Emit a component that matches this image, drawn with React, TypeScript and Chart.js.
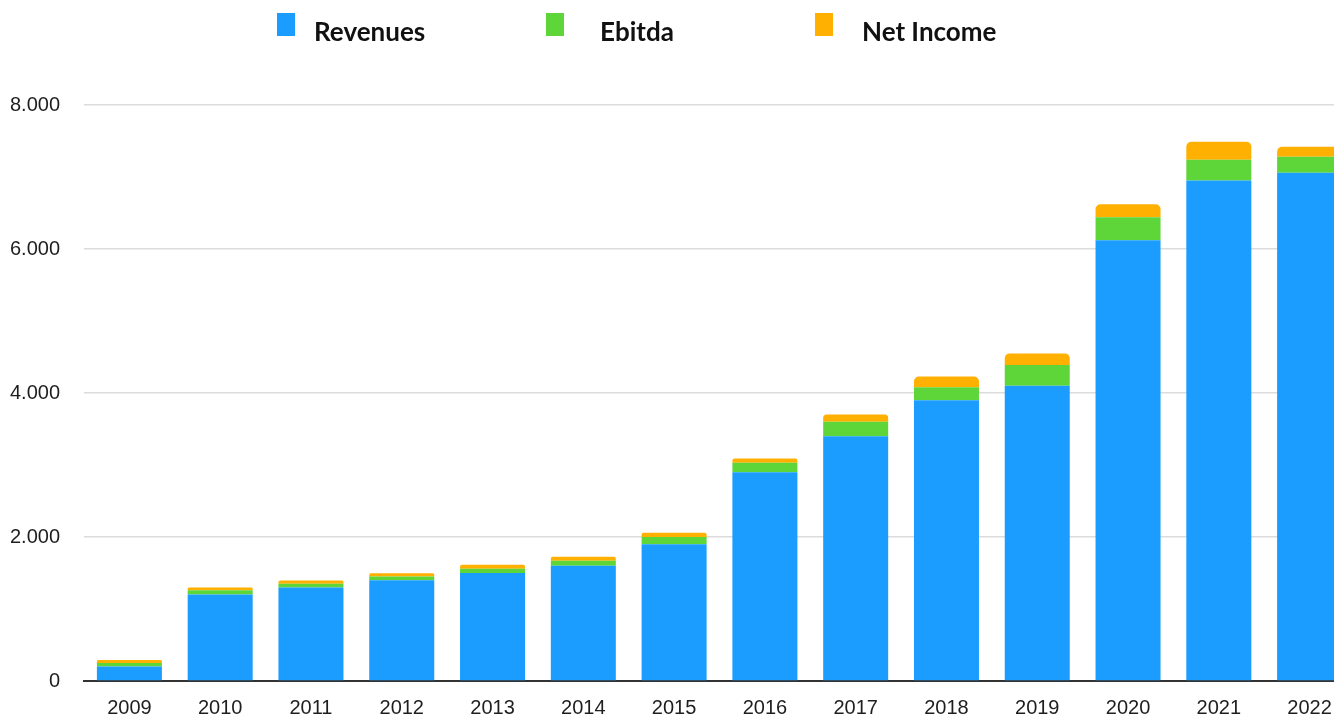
import React, { useEffect, useRef } from 'react';
import { Chart, registerables } from 'chart.js';

Chart.register(...registerables);

const years = ['2009', '2010', '2011', '2012', '2013', '2014', '2015', '2016', '2017', '2018', '2019', '2020', '2021', '2022'];
const revenues = [200, 1200, 1300, 1400, 1500, 1600, 1900, 2900, 3400, 3900, 4100, 6120, 6950, 7060];
const ebitda = [50, 60, 50, 50, 60, 70, 100, 130, 200, 180, 290, 320, 290, 220];
const netIncome = [40, 40, 45, 45, 55, 55, 60, 60, 100, 150, 160, 180, 250, 140];
const yTickLabels = ['0', '2.000', '4.000', '6.000', '8.000'];
const seriesNames = ['Revenues', 'Ebitda', 'Net Income'];
const seriesColors = ['#1A9DFF', '#5ED63A', '#FFB000'];

const legendMarkerLeft = [277, 546, 815];
const legendTextLeft = [314, 600, 862];

export default function App() {
  const canvasRef = useRef<HTMLCanvasElement | null>(null);

  useEffect(() => {
    document.body.style.margin = '0';
    const canvas = canvasRef.current;
    if (!canvas) return;
    const tickFont = { family: 'Liberation Sans', size: 20 };
    const barPct = 0.716;
    const chart = new Chart(canvas, {
      type: 'bar',
      data: {
        labels: years,
        datasets: [
          { label: seriesNames[0], data: revenues, backgroundColor: seriesColors[0], barPercentage: barPct, categoryPercentage: 1 },
          { label: seriesNames[1], data: ebitda, backgroundColor: seriesColors[1], barPercentage: barPct, categoryPercentage: 1 },
          {
            label: seriesNames[2], data: netIncome, backgroundColor: seriesColors[2], barPercentage: barPct, categoryPercentage: 1,
            borderRadius: { topLeft: 5, topRight: 5, bottomLeft: 0, bottomRight: 0 },
          },
        ],
      },
      options: {
        responsive: false,
        animation: false,
        layout: { padding: { top: 105, right: 0, bottom: 1, left: 0 } },
        plugins: { legend: { display: false }, tooltip: { enabled: false } },
        scales: {
          x: {
            stacked: true,
            grid: { display: false },
            border: { display: true, color: '#333333', width: 2 },
            ticks: {
              font: tickFont,
              color: '#1e1e1e',
              padding: 7,
              maxRotation: 0,
              autoSkip: false,
            },
            afterFit: (s: any) => { s.height = 38; },
          },
          y: {
            stacked: true,
            min: 0,
            max: 8000,
            ticks: {
              stepSize: 2000,
              callback: (_v: any, i: number) => yTickLabels[i],
              padding: 24,
              font: tickFont,
              color: '#1e1e1e',
            },
            grid: { color: '#dcdcdc', lineWidth: 1.5, drawTicks: false },
            border: { display: false },
            afterFit: (s: any) => { s.width = 84; },
          },
        },
      },
    });
    return () => chart.destroy();
  }, []);

  return (
    <div style={{ position: 'relative', width: 1334, height: 718, overflow: 'hidden', background: '#fff' }}>
      <canvas ref={canvasRef} width={1355} height={720} style={{ position: 'absolute', left: 0, top: 0, width: 1355, height: 720 }} />
      {seriesNames.map((name, i) => (
        <React.Fragment key={name}>
          <div style={{ position: 'absolute', left: legendMarkerLeft[i], top: 13, width: 18, height: 23, background: seriesColors[i] }} />
          <div style={{ position: 'absolute', left: legendTextLeft[i], top: 16, fontFamily: 'Lato, sans-serif', fontWeight: 700, fontSize: 26, lineHeight: '30px', color: '#111', whiteSpace: 'nowrap' }}>
            {name}
          </div>
        </React.Fragment>
      ))}
    </div>
  );
}
